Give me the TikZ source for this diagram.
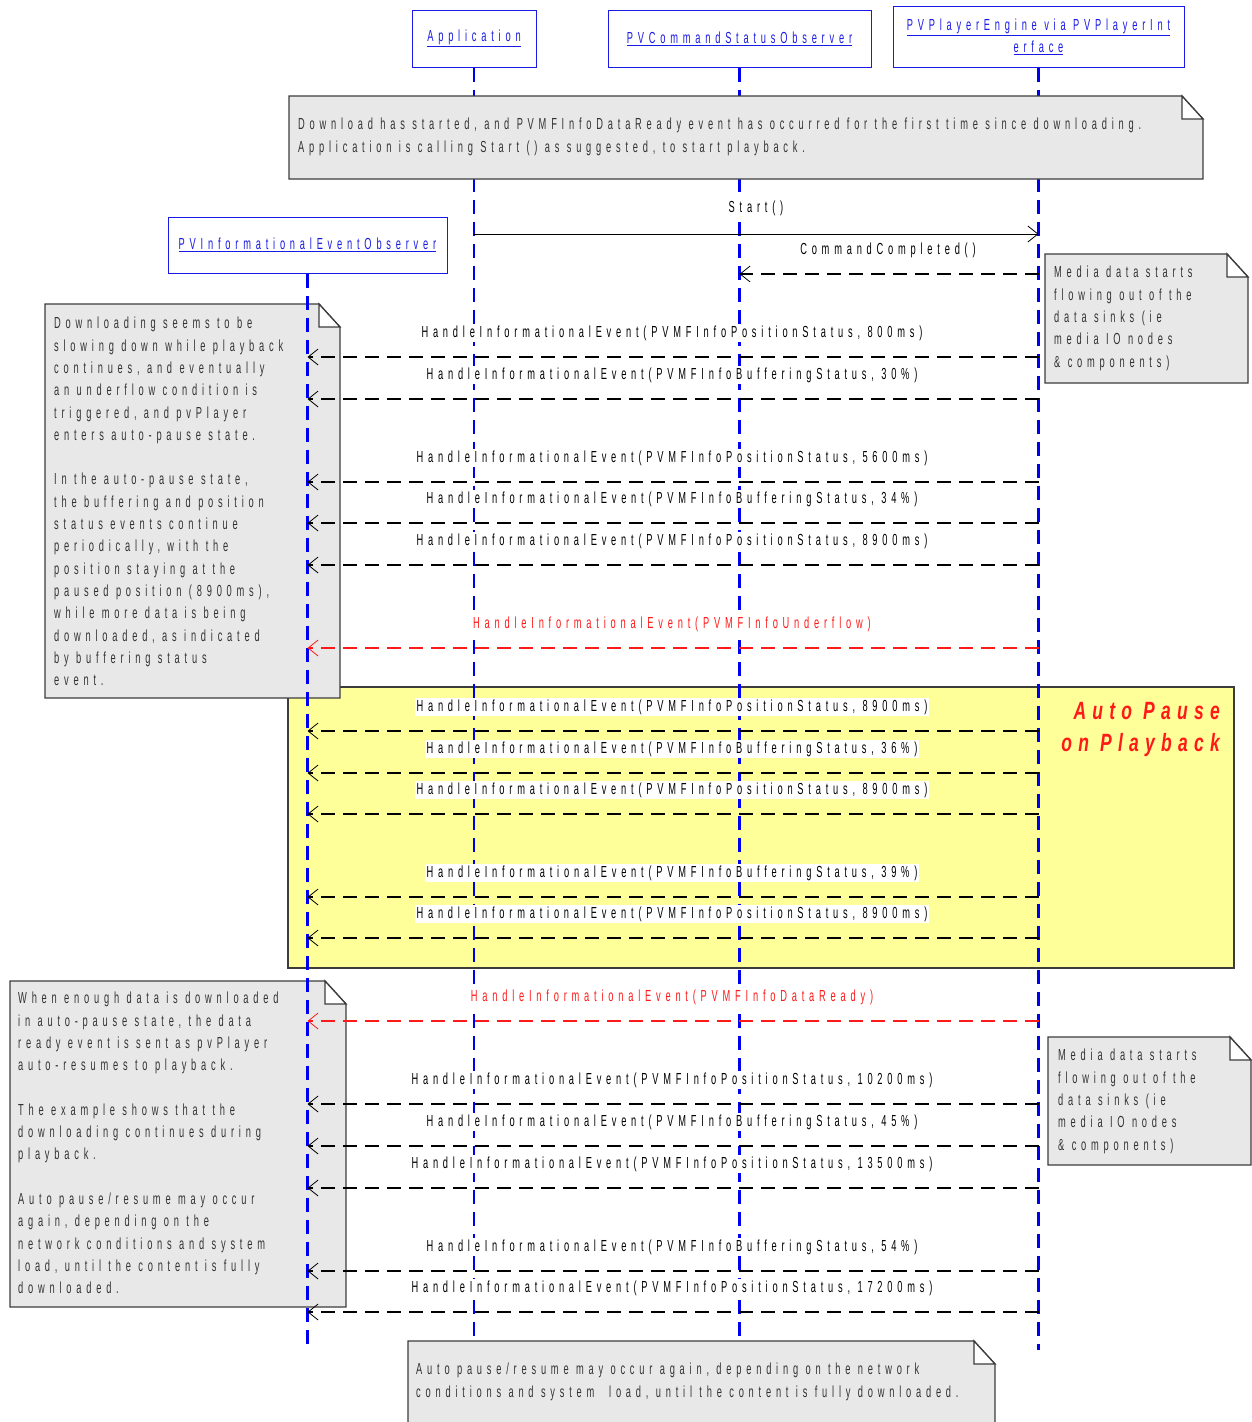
\documentclass[tikz,border=0pt]{standalone}
\usepackage{fontspec}
\usetikzlibrary{arrows.meta,positioning}
\setmainfont{Liberation Sans}
\newfontfamily\seqfont[FakeStretch=0.58,LetterSpace=30]{Liberation Sans}
\newfontfamily\pausefont[FakeStretch=0.7,LetterSpace=25]{Liberation Sans}
\definecolor{lifeblue}{HTML}{0000F0}
\definecolor{headblue}{HTML}{1A1AE6}
\definecolor{notegray}{HTML}{E8E8E8}
\definecolor{noteedge}{HTML}{3C3C3C}
\definecolor{pauseyellow}{HTML}{FFFF99}
\definecolor{msgred}{HTML}{FF1A1A}
\newcommand{\seqsize}{\fontsize{16}{22.3}\selectfont}
% dog-eared note paper
\newcommand{\notepaper}[4]{%
  \filldraw[notebody] (#1,#2) -- (#3-21,#2) -- (#3,#2+23) -- (#3,#4) -- (#1,#4) -- cycle;
  \filldraw[notefold] (#3-21,#2) -- (#3-21,#2+23) -- (#3,#2+23) -- cycle;
}

\begin{document}
\begin{tikzpicture}[x=1pt,y=-1pt,
  actor/.style={draw=headblue,line width=1pt,text=headblue,font=\seqfont\seqsize,inner sep=0pt},
  lifeline/.style={lifeblue,line width=2.6pt,dash pattern=on 14pt off 8pt},
  msg/.style={line width=2.8pt,dash pattern=on 14pt off 8pt,-{Straight Barb[length=10pt,width=16pt,line width=0.8pt]}},
  call/.style={line width=0.8pt,-{Straight Barb[length=10pt,width=16pt,line width=0.8pt]}},
  msglabel/.style={fill=white,inner sep=1.5pt,font=\seqfont\seqsize},
  notebody/.style={fill=notegray,draw=noteedge,line width=1.3pt},
  notefold/.style={fill=white,draw=noteedge,line width=1.3pt},
  notetext/.style={anchor=north west,align=left,inner sep=0pt,font=\seqfont\seqsize,text=black!80}]
\useasboundingbox[fill=white] (0,0) rectangle (1251,1422);

% auto pause region
\node[draw=noteedge,line width=1.5pt,fill=pauseyellow,minimum width=946,minimum height=281,anchor=north west] (pausebox) at (287,686) {};
\node[anchor=north east,align=right,inner sep=0pt,text=msgred,font=\pausefont\fontsize{25}{32}\selectfont\bfseries\itshape] (pauselabel) at (1220,702) {Auto Pause\\on Playback};

% side notes
\notepaper{45}{304}{340}{698}
\node[notetext] (note slow) at (54,317) {Downloading seems to be\\slowing down while playback\\continues, and eventually\\an underflow condition is\\triggered, and pvPlayer\\enters auto-pause state.\\[22.3pt]In the auto-pause state,\\the buffering and position\\status events continue\\periodically, with the\\position staying at the\\paused position (8900ms),\\while more data is being\\downloaded, as indicated\\by buffering status\\event.};
\notepaper{10}{981}{346}{1307}
\node[notetext] (note resume) at (18,992) {When enough data is downloaded\\in auto-pause state, the data\\ready event is sent as pvPlayer\\auto-resumes to playback.\\[22.3pt]The example shows that the\\downloading continues during\\playback.\\[22.3pt]Auto pause/resume may occur\\again, depending on the\\network conditions and system\\load, until the content is fully\\downloaded.};
\notepaper{1045}{254}{1248}{383}
\node[notetext] (note media) at (1054,266) {Media data starts\\flowing out of the\\data sinks (ie\\media IO nodes\\\& components)};
\notepaper{1048}{1037}{1251}{1165}
\node[notetext] (note media2) at (1058,1049) {Media data starts\\flowing out of the\\data sinks (ie\\media IO nodes\\\& components)};

% participants
\node[actor,minimum width=124,minimum height=57] (app) at (474,38.5) {\underline{Application}};
\node[actor,minimum width=263,minimum height=57] (cmd) at (739.5,38.5) {\underline{PVCommandStatusObserver}};
\node[actor,minimum width=291,minimum height=61,align=center] (eng) at (1038.5,36.5) {\underline{PVPlayerEngine via PVPlayerInt}\\\underline{erface}};
\node[actor,minimum width=279,minimum height=56] (info) at (307.5,245) {\underline{PVInformationalEventObserver}};

% lifelines
\coordinate (lifeend) at (0,1350);
\foreach \who in {app,cmd,eng,info}
  \draw[lifeline] (\who.south) -- (\who.south |- lifeend);

% notes over the lifelines
\notepaper{289}{96}{1203}{179}
\node[notetext] (note start) at (298,118) {Download has started, and PVMFInfoDataReady event has occurred for the first time since downloading.\\Application is calling Start () as suggested, to start playback.};
\notepaper{408}{1341}{995}{1426}
\node[notetext] (note again) at (416,1363) {Auto pause/resume may occur again, depending on the network\\conditions and system\ \ load, until the content is fully downloaded.};

% calls
\draw[call] (app.south |- 0,234) -- (eng.south |- 0,234);
\node[msglabel] (lbl start) at (756,208) {Start()};
\draw[msg] (eng.south |- 0,274) -- (cmd.south |- 0,274);
\node[msglabel] (lbl done) at (888,250) {CommandCompleted()};

% informational events
\foreach \y/\what/\col in {
  357/{PVMFInfoPositionStatus, 800ms}/black,
  399/{PVMFInfoBufferingStatus, 30\%}/black,
  482/{PVMFInfoPositionStatus, 5600ms}/black,
  523/{PVMFInfoBufferingStatus, 34\%}/black,
  565/{PVMFInfoPositionStatus, 8900ms}/black,
  648/{PVMFInfoUnderflow}/msgred,
  731/{PVMFInfoPositionStatus, 8900ms}/black,
  773/{PVMFInfoBufferingStatus, 36\%}/black,
  814/{PVMFInfoPositionStatus, 8900ms}/black,
  897/{PVMFInfoBufferingStatus, 39\%}/black,
  938/{PVMFInfoPositionStatus, 8900ms}/black,
  1021/{PVMFInfoDataReady}/msgred,
  1104/{PVMFInfoPositionStatus, 10200ms}/black,
  1146/{PVMFInfoBufferingStatus, 45\%}/black,
  1188/{PVMFInfoPositionStatus, 13500ms}/black,
  1271/{PVMFInfoBufferingStatus, 54\%}/black,
  1312/{PVMFInfoPositionStatus, 17200ms}/black} {
  \draw[msg,\col] (eng.south |- 0,\y) -- (info.south |- 0,\y);
  \node[msglabel,text=\col] (lbl\y) at (672,\y-24) {HandleInformationalEvent(\what)};
}
\end{tikzpicture}
\end{document}
